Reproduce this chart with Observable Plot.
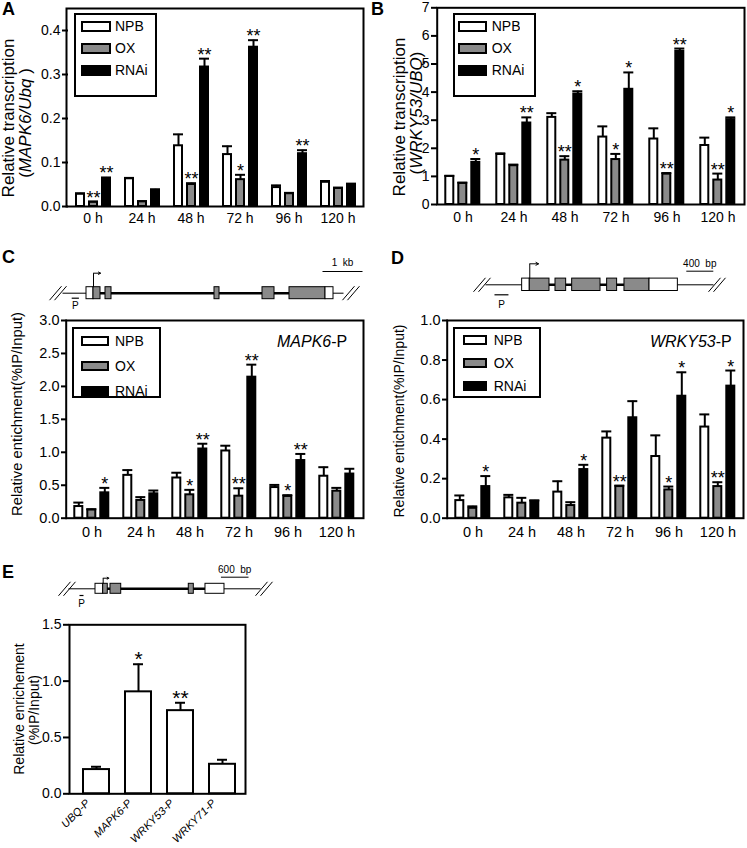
<!DOCTYPE html>
<html><head><meta charset="utf-8">
<script src="https://cdn.jsdelivr.net/npm/d3@7"></script>
<script src="https://cdn.jsdelivr.net/npm/@observablehq/plot@0.6"></script>
<style>
body{margin:0;background:#fff;}
#fig{position:relative;width:747px;height:848px;overflow:hidden;background:#fff;font-family:"Liberation Sans",Arial,Helvetica,sans-serif;color:#000;}
.abs{position:absolute;}
.letter{position:absolute;font-weight:bold;font-size:18px;line-height:1;white-space:nowrap;}
.ytitle{position:absolute;white-space:nowrap;line-height:1;transform:translate(-50%,-50%) rotate(-90deg);}
.inlab{position:absolute;white-space:nowrap;line-height:1;font-size:16px;}
.legbox{position:absolute;border:2px solid #000;box-sizing:border-box;background:#fff;}
.legbox .lg-swatches{font-family:"Liberation Sans",Arial,sans-serif !important;font-size:14px !important;margin:0 !important;min-height:0 !important;}
.legbox .lg-swatch{display:flex !important;align-items:center !important;padding:0 !important;margin:0 !important;}
.legbox .lg-swatch svg{overflow:visible;flex-shrink:0;}
.legbox .lg-swatch svg rect{stroke:#000;stroke-width:2px;}
.chart svg [aria-label="y-axis tick"]{stroke-width:2px;}
.chart svg [aria-label="y-axis"] line{stroke-width:2px;}
</style>
</head><body><div id="fig"></div>
<script>
// ---------- data ----------
const times = ["0 h", "24 h", "48 h", "72 h", "96 h", "120 h"];
const genotypes = ["NPB", "OX", "RNAi"];
const genotypeFills = ["#ffffff", "#8a8a8a", "#000000"];

// Panel A: MAPK6/Ubq relative transcription (per time: NPB, OX, RNAi)
const aMean = [0.028,0.010,0.063, 0.063,0.011,0.037, 0.138,0.050,0.317, 0.118,0.061,0.362, 0.043,0.029,0.120, 0.055,0.041,0.050];
const aErr  = [0.002,0.001,0.003, 0.002,0.001,0.002, 0.026,0.003,0.019, 0.019,0.011,0.016, 0.005,0.002,0.008, 0.003,0.002,0.002];
const aSig  = ["","**","**", "","","", "","**","**", "","*","**", "","","**", "","",""];

// Panel B: WRKY53/UBQ relative transcription
const bMean = [1.00,0.75,1.50, 1.78,1.38,2.90, 3.10,1.58,3.93, 2.40,1.60,4.10, 2.33,1.08,5.45, 2.10,0.87,3.02];
const bErr  = [0.02,0.03,0.12, 0.04,0.04,0.20, 0.15,0.14,0.10, 0.38,0.20,0.60, 0.38,0.04,0.10, 0.28,0.23,0.08];
const bSig  = ["","","*", "","","**", "","**","*", "","*","*", "","**","**", "","**","*"];

// Panel C: ChIP enrichment at MAPK6 promoter
const cMean = [0.177,0.126,0.385, 0.650,0.270,0.370, 0.610,0.355,1.050, 1.020,0.334,2.140, 0.465,0.330,0.875, 0.637,0.410,0.670];
const cErr  = [0.060,0.010,0.075, 0.080,0.050,0.050, 0.080,0.075,0.080, 0.080,0.120,0.190, 0.040,0.020,0.100, 0.137,0.050,0.080];
const cSig  = ["","","*", "","","", "","*","**", "","**","**", "","*","**", "","",""];

// Panel D: ChIP enrichment at WRKY53 promoter
const dMean = [0.089,0.050,0.160, 0.103,0.076,0.086, 0.132,0.064,0.246, 0.405,0.160,0.508, 0.312,0.143,0.617, 0.461,0.160,0.668];
const dErr  = [0.026,0.010,0.053, 0.015,0.027,0.004, 0.055,0.017,0.024, 0.034,0.005,0.084, 0.107,0.017,0.121, 0.064,0.022,0.079];
const dSig  = ["","","*", "","","", "","","*", "","**","", "","*","*", "","**","*"];

// Panel E: ChIP enrichment at promoters
const ePromoters = ["UBQ-P", "MAPK6-P", "WRKY53-P", "WRKY71-P"];
const eMean = [0.215, 0.905, 0.738, 0.262];
const eErr  = [0.025, 0.245, 0.070, 0.040];
const eSig  = ["", "*", "**", ""];

// Gene models (bp), C: MAPK6, D: WRKY53, E: gene of panel E
const cExonStart = [600, 775, 1075, 3800, 5000, 5675, 6575];
const cExonEnd   = [775, 950, 1225, 3925, 5300, 6575, 6775];
const cExonType  = ["UTR","CDS","CDS","CDS","CDS","CDS","UTR"];
const cGeneLine = [0, 7025], cIntron = [775, 6575], cTss = 775, cTssTip = 950;
const cProbe = [230, 410], cScaleBar = [6500, 7500], cScaleLabel = "1  kb", cBreaks = [-112, 7212];

const dExonStart = [543, 656, 1037, 1284, 1802, 2059, 2430];
const dExonEnd   = [656, 948, 1195, 1704, 1950, 2430, 2850];
const dExonType  = ["UTR","CDS","CDS","CDS","CDS","CDS","UTR"];
const dGeneLine = [0, 3378], dIntron = [656, 2430], dTss = 656, dTssTip = 785;
const dProbe = [133, 340], dScaleBar = [2975, 3375], dScaleLabel = "400  bp", dBreaks = [-52, 3430];

const eExonStart = [587, 754, 913, 2615, 2978];
const eExonEnd   = [754, 854, 1146, 2724, 3391];
const eExonType  = ["UTR","CDS","CDS","CDS","UTR"];
const eGeneLine = [0, 4174], eIntron = [754, 2978], eTss = 754, eTssTip = 876;
const eProbe = [239, 326], eScaleBar = [3314, 3914], eScaleLabel = "600  bp", eBreaks = [-33, 4250];

// ---------- helpers ----------
const FONT = '"Liberation Sans", Arial, Helvetica, sans-serif';
const GRAY = "#8a8a8a";
const fig = document.getElementById("fig");

function rowsOf(mean, err, sig) {
  return times.flatMap((t, i) => genotypes.map((g, j) => ({time: t, genotype: g, mean: mean[i*3+j], err: err[i*3+j], sig: sig[i*3+j]})));
}
function place(el, left, top, w, h, id) {
  const d = document.createElement("div");
  d.className = "abs chart";
  if (id) d.id = id;
  Object.assign(d.style, {left: left+"px", top: top+"px", width: w+"px", height: h+"px"});
  d.appendChild(el);
  fig.appendChild(d);
  return d;
}
function html(cls, left, top, inner, extra) {
  const d = document.createElement("div");
  d.className = cls;
  d.style.left = left + "px"; d.style.top = top + "px";
  if (extra) Object.assign(d.style, extra);
  d.innerHTML = inner;
  fig.appendChild(d);
  return d;
}
function baseStyle(fs) {
  return {fontFamily: FONT, fontSize: fs + "px", color: "#000", background: "transparent", overflow: "visible"};
}

function barPanel(rows, o) {
  const top = d => d.mean + d.err;
  const chart = Plot.plot({
    width: o.width, height: o.height,
    marginLeft: o.ml, marginRight: o.mr, marginTop: o.mt, marginBottom: o.mb,
    style: baseStyle(o.fs),
    facet: {data: rows, x: "time"},
    fx: {domain: times, padding: 0, axis: "bottom", tickSize: 0, tickPadding: o.fxPad, label: null},
    x: {domain: genotypes, axis: null, paddingInner: 0.41, paddingOuter: 0.54},
    y: {domain: o.yDomain, ticks: o.yTicks, tickFormat: o.yFormat, tickSize: 6, tickPadding: 2, label: null},
    color: {domain: genotypes, range: genotypeFills},
    marks: [
      Plot.barY(rows, {x: "genotype", y: "mean", fill: "genotype", stroke: "#000", strokeWidth: 2}),
      Plot.ruleX(rows, {x: "genotype", y1: "mean", y2: top, stroke: "#000", strokeWidth: 2}),
      Plot.tickY(rows, {x: "genotype", y: top, stroke: "#000", strokeWidth: 2, insetLeft: -1, insetRight: -1}),
      Plot.text(rows, {x: "genotype", y: top, text: "sig", lineAnchor: "bottom", dy: 2, fontSize: 18})
    ]
  });
  const frame = Plot.plot({
    width: o.width, height: o.height,
    marginLeft: o.ml, marginRight: o.mr, marginTop: o.mt, marginBottom: o.mb,
    style: baseStyle(o.fs),
    marks: [Plot.frame({stroke: "#000", strokeWidth: 2})]
  });
  place(chart, o.left, o.top, o.width, o.height);
  place(frame, o.left, o.top, o.width, o.height);
}

function legendBox(o) {
  const box = document.createElement("div");
  box.className = "legbox";
  Object.assign(box.style, {left: o.left+"px", top: o.top+"px", width: o.w+"px", height: o.h+"px", paddingLeft: o.padLeft+"px"});
  const lg = Plot.legend({
    color: {domain: genotypes, range: genotypeFills},
    legend: "swatches", columns: 1, swatchWidth: o.swW, swatchHeight: o.swH,
    className: "lg", style: {fontFamily: FONT, fontSize: "14px", color: "#000"}
  });
  lg.style.marginTop = o.padTop + "px";
  box.appendChild(lg);
  fig.appendChild(box);
  box.querySelectorAll(".lg-swatch").forEach(s => { s.style.height = o.rowH + "px"; });
  box.querySelectorAll(".lg-swatch svg").forEach(s => { s.style.marginRight = o.gap + "px"; });
}

function geneDiagram(g, L) {
  const k = (g.domain[1] - g.domain[0]) / (L.range[1] - L.range[0]);
  const exons = g.starts.map((s, i) => ({start: s, end: g.ends[i], type: g.types[i]}));
  const strokes = g.breaks.flatMap(c => [-1, 1].map(o => ({c, o})));
  const mid = d => (d[0] + d[1]) / 2;
  const chart = Plot.plot({
    width: L.width, height: L.height, margin: 0,
    style: baseStyle(10),
    x: {domain: g.domain, range: L.range, axis: null},
    y: {domain: [-(L.height - L.lineY), L.lineY], range: [L.height, 0], axis: null},
    marks: [
      Plot.link([g.line], {x1: d => d[0], x2: d => d[1], y1: () => 0, y2: () => 0, stroke: "#000", strokeWidth: 1}),
      Plot.link([g.intron], {x1: d => d[0], x2: d => d[1], y1: () => 0, y2: () => 0, stroke: "#000", strokeWidth: 2.5}),
      Plot.rect(exons, {x1: "start", x2: "end", y1: () => -L.exonHalf, y2: () => L.exonHalf,
        fill: d => d.type === "CDS" ? GRAY : "#fff", stroke: "#000", strokeWidth: 1}),
      Plot.link([g.tss], {x1: d => d, x2: d => d, y1: () => L.exonHalf, y2: () => L.arrowTop, stroke: "#000", strokeWidth: 1}),
      Plot.arrow([g.tss], {x1: d => d, x2: () => g.tssTip, y1: () => L.arrowTop, y2: () => L.arrowTop,
        stroke: "#000", strokeWidth: 1, headLength: 5}),
      Plot.link([g.probe], {x1: d => d[0], x2: d => d[1], y1: () => L.probeY, y2: () => L.probeY, stroke: "#000", strokeWidth: 1.2}),
      Plot.text([g.probe], {x: mid, y: () => L.pTextY, text: () => "P", fontSize: 10}),
      Plot.link([g.scaleBar], {x1: d => d[0], x2: d => d[1], y1: () => L.scaleBarY, y2: () => L.scaleBarY, stroke: "#000", strokeWidth: 1}),
      Plot.text([g.scaleBar], {x: mid, y: () => L.scaleTextY, text: () => g.scaleLabel, fontSize: 10}),
      Plot.link(strokes, {
        x1: d => d.c + (d.o * L.breakSep - L.breakW) * k, x2: d => d.c + (d.o * L.breakSep + L.breakW) * k,
        y1: () => -L.breakH, y2: () => L.breakH, stroke: "#000", strokeWidth: 1})
    ]
  });
  place(chart, L.left, L.top, L.width, L.height);
}

// ---------- panels ----------
// A
barPanel(rowsOf(aMean, aErr, aSig), {left: 0, top: 0, width: 370, height: 232, ml: 66, mr: 7, mt: 8, mb: 26,
  fs: 14, fxPad: 7, yDomain: [0, 0.45], yTicks: [0, 0.1, 0.2, 0.3, 0.4], yFormat: d3.format(".1f")});
legendBox({left: 74, top: 13, w: 83, h: 84, padLeft: 6, padTop: 3, rowH: 22.2, swW: 28, swH: 9, gap: 5});
html("letter", 2, 0, "A");
html("ytitle", 8, 118, "Relative transcription", {fontSize: "17px"});
html("ytitle", 25, 123, "(<i>MAPK6/Ubq</i> )", {fontSize: "17px"});

// B
barPanel(rowsOf(bMean, bErr, bSig), {left: 370, top: 0, width: 377, height: 230, ml: 66.7, mr: 3, mt: 7.3, mb: 26,
  fs: 14, fxPad: 8, yDomain: [0, 7], yTicks: [0, 1, 2, 3, 4, 5, 6, 7], yFormat: d3.format("d")});
legendBox({left: 452.7, top: 13, w: 83, h: 84, padLeft: 4, padTop: 3, rowH: 22.2, swW: 27, swH: 9, gap: 6});
html("letter", 371, 0, "B");
html("ytitle", 398.5, 117, "Relative transcription", {fontSize: "17px"});
html("ytitle", 415.8, 113, "(<i>WRKY53/UBQ</i>)", {fontSize: "17px"});

// C
geneDiagram({starts: cExonStart, ends: cExonEnd, types: cExonType, line: cGeneLine, intron: cIntron, tss: cTss, tssTip: cTssTip,
  probe: cProbe, scaleBar: cScaleBar, scaleLabel: cScaleLabel, breaks: cBreaks, domain: cGeneLine},
  {left: 0, top: 255, width: 370, height: 57, lineY: 37.7, range: [62, 343], exonHalf: 6, arrowTop: 20, scaleBarY: 21.7,
   scaleTextY: 30.5, probeY: -5, pTextY: -12.3, breakSep: 2.5, breakW: 6, breakH: 7});
barPanel(rowsOf(cMean, cErr, cSig), {left: 0, top: 312, width: 370, height: 232, ml: 65.7, mr: 7, mt: 8, mb: 26.3,
  fs: 14.5, fxPad: 9, yDomain: [0, 3], yTicks: [0, 0.5, 1, 1.5, 2, 2.5, 3], yFormat: d3.format(".1f")});
legendBox({left: 72, top: 326.7, w: 89, h: 71.3, padLeft: 8, padTop: -3, rowH: 25, swW: 26, swH: 8, gap: 7});
html("letter", 2, 248, "C");
html("ytitle", 17.4, 414, "Relative entichment(%IP/Input)", {fontSize: "14.8px"});
html("inlab", 277, 334, "<i>MAPK6</i>-P");

// D
geneDiagram({starts: dExonStart, ends: dExonEnd, types: dExonType, line: dGeneLine, intron: dIntron, tss: dTss, tssTip: dTssTip,
  probe: dProbe, scaleBar: dScaleBar, scaleLabel: dScaleLabel, breaks: dBreaks, domain: dGeneLine},
  {left: 370, top: 250, width: 377, height: 62, lineY: 34.3, range: [115, 343], exonHalf: 6.2, arrowTop: 21, scaleBarY: 13.6,
   scaleTextY: 21, probeY: -10, pTextY: -19.7, breakSep: 2.5, breakW: 6, breakH: 7});
barPanel(rowsOf(dMean, dErr, dSig), {left: 370, top: 312, width: 377, height: 232, ml: 76.7, mr: 4, mt: 8, mb: 26.3,
  fs: 14.5, fxPad: 9, yDomain: [0, 1], yTicks: [0, 0.2, 0.4, 0.6, 0.8, 1], yFormat: d3.format(".1f")});
legendBox({left: 452.7, top: 326.7, w: 88.3, h: 71, padLeft: 9, padTop: -1, rowH: 23, swW: 22, swH: 8, gap: 8});
html("letter", 391, 249, "D");
html("ytitle", 398.5, 420.5, "Relative entichment(%IP/Input)", {fontSize: "14px"});
html("inlab", 0, 334, "<i>WRKY53</i>-P", {left: "auto", right: (747 - 731.7) + "px"});

// E
geneDiagram({starts: eExonStart, ends: eExonEnd, types: eExonType, line: eGeneLine, intron: eIntron, tss: eTss, tssTip: eTssTip,
  probe: eProbe, scaleBar: eScaleBar, scaleLabel: eScaleLabel, breaks: eBreaks, domain: eGeneLine},
  {left: 0, top: 560, width: 280, height: 50, lineY: 28.3, range: [68, 260], exonHalf: 5, arrowTop: 10.6, scaleBarY: 11.6,
   scaleTextY: 19, probeY: -6.7, pTextY: -14.5, breakSep: 2.5, breakW: 6, breakH: 7});
{
  const rows = ePromoters.map((p, i) => ({promoter: p, mean: eMean[i], err: eErr[i], sig: eSig[i]}));
  const top = d => d.mean + d.err;
  const chart = Plot.plot({
    width: 260, height: 232, marginLeft: 69, marginRight: 15, marginTop: 8.3, marginBottom: 54.7,
    style: baseStyle(14),
    x: {domain: ePromoters, range: [73.3, 244.2], paddingInner: 0.37, paddingOuter: 0.185, axis: null},
    y: {domain: [0, 1.5], ticks: [0, 0.5, 1, 1.5], tickFormat: d3.format(".1f"), tickSize: 6, tickPadding: 2, label: null},
    marks: [
      Plot.barY(rows, {x: "promoter", y: "mean", fill: "#fff", stroke: "#000", strokeWidth: 2}),
      Plot.ruleX(rows, {x: "promoter", y1: "mean", y2: top, stroke: "#000", strokeWidth: 2}),
      Plot.tickY(rows, {x: "promoter", y: top, stroke: "#000", strokeWidth: 2, insetLeft: 8, insetRight: 8}),
      Plot.text(rows, {x: "promoter", y: top, text: "sig", lineAnchor: "bottom", dy: 2, fontSize: 21}),
      Plot.text(rows, {x: "promoter", y: () => 0, text: "promoter", rotate: -45, textAnchor: "end", lineAnchor: "bottom",
        dx: -6, dy: 10, fontSize: 11, fontStyle: "italic"}),
      Plot.frame({stroke: "#000", strokeWidth: 2})
    ]
  });
  place(chart, 0, 616, 260, 232, "chartE");
}
html("letter", 2, 562.5, "E");
html("ytitle", 18.7, 708.5, "Relative enrichement", {fontSize: "14px"});
html("ytitle", 33.7, 709.5, "(%IP/Input)", {fontSize: "14px"});
</script>
</body></html>
